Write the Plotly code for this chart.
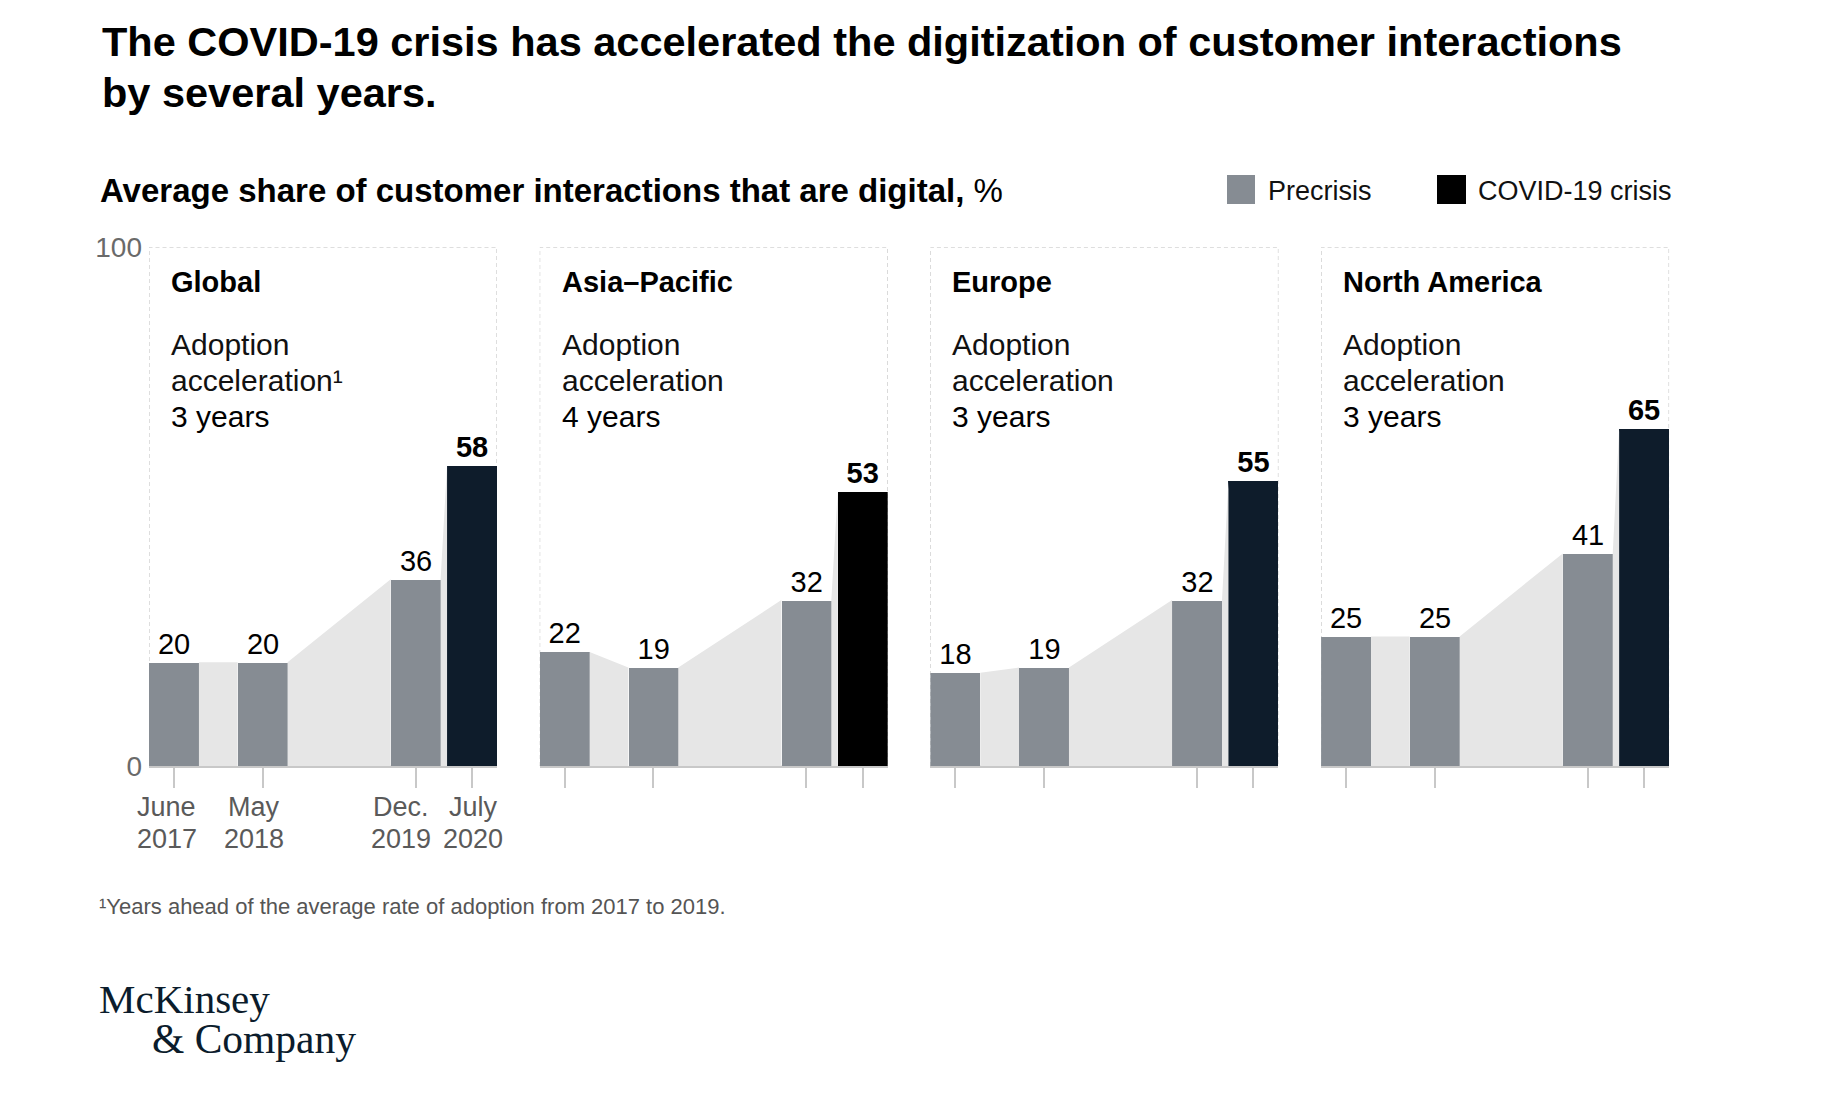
import plotly.graph_objects as go
import pandas as pd

# ---------------- data ----------------
regions = ["Global", "Asia–Pacific", "Europe", "North America"]
acceleration_years = [3, 4, 3, 3]
survey_dates = ["2017-06", "2018-05", "2019-12", "2020-07"]
tick_labels = ["June<br>2017", "May<br>2018", "Dec.<br>2019", "July<br>2020"]
phase = ["Precrisis", "Precrisis", "Precrisis", "COVID-19 crisis"]
global_vals = [20, 20, 36, 58]
asia_pacific_vals = [22, 19, 32, 53]
europe_vals = [18, 19, 32, 55]
north_america_vals = [25, 25, 41, 65]
region_values = [global_vals, asia_pacific_vals, europe_vals, north_america_vals]

# ---------------- style ----------------
FONT = "Liberation Sans, Arial, sans-serif"
SERIF = "Liberation Serif, Times New Roman, serif"
PRE_COLOR = "#868c93"
CRISIS_COLORS = ["#0e1c2b", "#000000", "#0e1c2b", "#0e1c2b"]
AREA_COLOR = "#e6e6e6"
AXIS_COLOR = "#c8c8c8"
TICK_LABEL_SHIFT = [-7, -9, -15, 1]   # small horizontal nudges of the date labels (px)
W, H = 1848, 1094


def px(x):
    return x / W


def py(y):
    return 1 - y / H


d = pd.to_datetime(survey_dates)
months = [(t.year - d[0].year) * 12 + (t.month - d[0].month) for t in d]
bar_w = 6.2
x_range = [months[0] - bar_w / 2, months[-1] + bar_w / 2]

panel_left = [149 + i * 390.7 for i in range(4)]
panel_w = 348
y_dom = [py(766), py(247.5)]

fig = go.Figure()
shapes = []
annotations = []

for i, (name, vals) in enumerate(zip(regions, region_values)):
    xa = "x" if i == 0 else f"x{i+1}"
    ya = "y" if i == 0 else f"y{i+1}"
    # grey connecting areas in the gaps between bars (one closed piece per gap)
    ax, ay = [], []
    for k in range(len(vals) - 1):
        xr = months[k] + bar_w / 2
        xl = months[k + 1] - bar_w / 2
        ax += [xr, xr, xl, xl, None]
        ay += [0, vals[k], vals[k + 1], 0, None]
    fig.add_trace(go.Scatter(
        x=ax, y=ay, mode="lines", fill="toself", fillcolor=AREA_COLOR,
        line=dict(width=0, color=AREA_COLOR), hoverinfo="skip",
        showlegend=False, xaxis=xa, yaxis=ya))
    colors = [PRE_COLOR if p == "Precrisis" else CRISIS_COLORS[i] for p in phase]
    texts = [str(v) if p == "Precrisis" else f"<b>{v}</b>" for v, p in zip(vals, phase)]
    fig.add_trace(go.Bar(
        x=months, y=vals, width=bar_w, marker=dict(color=colors, line=dict(width=0)),
        text=texts, textposition="outside", cliponaxis=False, constraintext="none",
        textfont=dict(family=FONT, size=29, color="#000000"),
        showlegend=False, xaxis=xa, yaxis=ya, hoverinfo="skip"))

    L = panel_left[i]
    fig.layout[("xaxis" if i == 0 else f"xaxis{i+1}")] = dict(
        domain=[px(L), px(L + panel_w)], range=x_range, anchor=ya,
        showgrid=False, zeroline=False, showline=True, linecolor=AXIS_COLOR,
        linewidth=2, ticks="outside", ticklen=20, tickwidth=1.5, tickcolor=AXIS_COLOR,
        tickvals=months, showticklabels=False, automargin=False, fixedrange=True)
    fig.layout[("yaxis" if i == 0 else f"yaxis{i+1}")] = dict(
        domain=y_dom, range=[0, 100], anchor=xa, showgrid=False, zeroline=False,
        showline=False, tickvals=[0, 100], showticklabels=(i == 0), ticks="",
        ticklabelstandoff=6, automargin=False,
        tickfont=dict(family=FONT, size=28, color="#6a6a6a"), fixedrange=True)

    # dashed frame
    shapes.append(dict(type="rect", xref=xa, yref=ya, x0=x_range[0], x1=x_range[1],
                       y0=0, y1=100, layer="below",
                       line=dict(color="#bdbdbd", width=1, dash="4px,3px")))
    # panel texts
    tx = px(L + 20)
    annotations.append(dict(xref="paper", yref="paper", x=tx, y=py(282),
                            xanchor="left", yanchor="middle", showarrow=False,
                            text=f"<b>{name}</b>",
                            font=dict(family=FONT, size=29, color="#000000")))
    annotations.append(dict(xref="paper", yref="paper", x=tx, y=py(344),
                            xanchor="left", yanchor="middle", showarrow=False,
                            text="Adoption",
                            font=dict(family=FONT, size=30, color="#111111")))
    annotations.append(dict(xref="paper", yref="paper", x=tx, y=py(380),
                            xanchor="left", yanchor="middle", showarrow=False,
                            text="acceleration¹" if i == 0 else "acceleration",
                            font=dict(family=FONT, size=30, color="#111111")))
    annotations.append(dict(xref="paper", yref="paper", x=tx, y=py(416),
                            xanchor="left", yanchor="middle", showarrow=False,
                            text=f"{acceleration_years[i]} years",
                            font=dict(family=FONT, size=30, color="#000000")))

# date labels under the first panel's ticks
for k, lab in enumerate(tick_labels):
    for j, line in enumerate(lab.split("<br>")):
        annotations.append(dict(xref="x", yref="paper", x=months[k], y=py(807 + 32 * j),
                                xshift=TICK_LABEL_SHIFT[k], xanchor="center", yanchor="middle",
                                showarrow=False, text=line,
                                font=dict(family=FONT, size=27, color="#5a5a5a")))

# title, subtitle, legend, footnote, logo
annotations += [
    dict(xref="paper", yref="paper", x=px(100), y=py(41), xanchor="left", yanchor="middle",
         showarrow=False, text="<b>The COVID-19 crisis has accelerated the digitization of customer interactions</b>",
         font=dict(family=FONT, size=41.5, color="#000000")),
    dict(xref="paper", yref="paper", x=px(100), y=py(92), xanchor="left", yanchor="middle",
         showarrow=False, text="<b>by several years.</b>",
         font=dict(family=FONT, size=41.5, color="#000000")),
    dict(xref="paper", yref="paper", x=px(98), y=py(190), xanchor="left", yanchor="middle",
         showarrow=False, text="<b>Average share of customer interactions that are digital,</b> %",
         font=dict(family=FONT, size=33, color="#000000")),
    dict(xref="paper", yref="paper", x=px(1266), y=py(191), xanchor="left", yanchor="middle",
         showarrow=False, text="Precrisis", font=dict(family=FONT, size=27, color="#111111")),
    dict(xref="paper", yref="paper", x=px(1476), y=py(191), xanchor="left", yanchor="middle",
         showarrow=False, text="COVID-19 crisis", font=dict(family=FONT, size=27, color="#111111")),
    dict(xref="paper", yref="paper", x=px(97), y=py(906), xanchor="left", yanchor="middle",
         showarrow=False, text="¹Years ahead of the average rate of adoption from 2017 to 2019.",
         font=dict(family=FONT, size=22, color="#555555")),
    dict(xref="paper", yref="paper", x=px(97), y=py(999), xanchor="left", yanchor="middle",
         showarrow=False, text="McKinsey", font=dict(family=SERIF, size=41, color="#0b1c2c")),
    dict(xref="paper", yref="paper", x=px(150), y=py(1039), xanchor="left", yanchor="middle",
         showarrow=False, text="&amp; Company", font=dict(family=SERIF, size=41.5, color="#0b1c2c")),
]

# legend squares
shapes += [
    dict(type="rect", xref="paper", yref="paper", x0=px(1227), x1=px(1255), y0=py(204), y1=py(175),
         fillcolor=PRE_COLOR, line=dict(width=0)),
    dict(type="rect", xref="paper", yref="paper", x0=px(1437), x1=px(1466), y0=py(204), y1=py(175),
         fillcolor="#000000", line=dict(width=0)),
]

fig.update_layout(
    template="none",
    width=W, height=H, margin=dict(l=0, r=0, t=0, b=0, pad=0, autoexpand=False),
    paper_bgcolor="white", plot_bgcolor="white",
    font=dict(family=FONT), showlegend=False, bargap=0,
    shapes=shapes, annotations=annotations,
)

fig.write_html("out.html", config={"displayModeBar": False},
               post_script="document.body.style.margin='0';document.body.style.overflow='hidden';")
